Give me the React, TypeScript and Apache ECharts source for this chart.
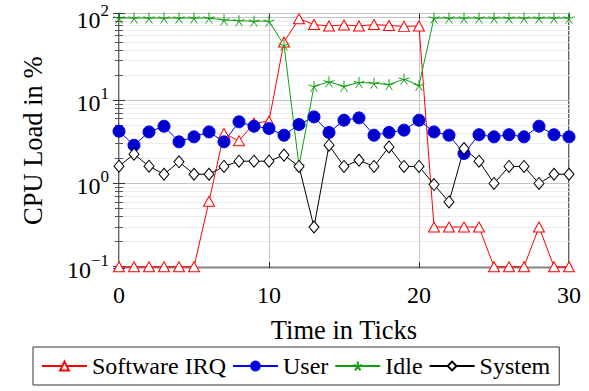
import { useEffect, useRef } from 'react';
import * as echarts from 'echarts';

const ticks = [0, 1, 2, 3, 4, 5, 6, 7, 8, 9, 10, 11, 12, 13, 14, 15, 16, 17, 18, 19, 20, 21, 22, 23, 24, 25, 26, 27, 28, 29, 30];
const softwareIrq = [0.1, 0.1, 0.1, 0.1, 0.1, 0.1, 0.61, 3.98, 3.25, 5.3, 5.6, 50, 95, 81, 78, 80, 78, 81, 79, 77, 78, 0.3, 0.3, 0.3, 0.3, 0.1, 0.1, 0.1, 0.3, 0.1, 0.1];
const user = [4.24, 2.88, 4.16, 4.87, 3.16, 3.63, 4.16, 3.16, 5.5, 4.87, 4.57, 3.8, 5.1, 6.3, 4.1, 5.75, 6.13, 3.8, 4.1, 4.37, 5.75, 4.16, 3.8, 2.29, 3.85, 3.63, 3.85, 3.63, 4.87, 3.85, 3.63];
const idle = [97, 97, 97, 97, 97, 97, 97, 92, 90, 89, 89, 46, 1.63, 14.7, 16.6, 14.7, 16.3, 16, 15.4, 17.9, 15.1, 97, 97, 97, 97, 97, 97, 97, 97, 97, 97];
const system = [1.61, 2.25, 1.61, 1.29, 1.82, 1.29, 1.29, 1.6, 1.85, 1.85, 1.85, 2.19, 1.6, 0.3, 2.88, 1.6, 1.9, 1.6, 2.75, 1.6, 1.6, 0.97, 0.6, 2.63, 1.85, 1.0, 1.6, 1.6, 1.0, 1.29, 1.29];
const xTickLabels = ['0', '10', '20', '30'];
const seriesNames = ['Software IRQ', 'User', 'Idle', 'System'];

const FONT = 'Liberation Serif';
const STAR = 'path://M0,0L0,-10M0,0L9.51,-3.09M0,0L5.88,8.09M0,0L-5.88,8.09M0,0L-9.51,-3.09';

const pair = (vals: number[]) => ticks.map((t, i) => [t, vals[i]]);

export default function App() {
  const ref = useRef<HTMLDivElement>(null);
  useEffect(() => {
    const chart = echarts.init(ref.current!, undefined, { renderer: 'svg' });
    const yLabel = (v: number) => {
      const l = Math.log10(v);
      const e = Math.round(l);
      if (Math.abs(l - e) > 1e-6) return '';
      return `{b|10}{s|${e < 0 ? '\u2212' + -e : e}}`;
    };
    const yCommon = {
      type: 'log' as const,
      logBase: 10,
      min: 0.0965,
      max: 110,
      axisLine: { show: false },
      axisTick: { show: true, inside: true, length: 6, lineStyle: { color: '#333' } },
      minorTick: { show: true, splitNumber: 9, length: 4, lineStyle: { color: '#555' } },
    };
    chart.setOption({
      animation: false,
      textStyle: { fontFamily: FONT },
      grid: { left: 119, right: 20, top: 13.5, bottom: 123, show: true, borderColor: '#000', borderWidth: 1.2, backgroundColor: 'transparent' },
      xAxis: [
        {
          type: 'value', min: 0, max: 30, interval: 10,
          name: 'Time in Ticks', nameLocation: 'middle', nameGap: 48,
          nameTextStyle: { fontFamily: FONT, fontSize: 26.5, color: '#000' },
          axisLine: { show: false },
          axisTick: { show: true, inside: true, length: 6, lineStyle: { color: '#333' } },
          axisLabel: { fontFamily: FONT, fontSize: 24, color: '#000', margin: 15, formatter: (v: number) => xTickLabels[v / 10] ?? '' },
          splitLine: { show: true, lineStyle: { color: '#c4c4c4', width: 1 } },
        },
        {
          type: 'value', min: 0, max: 30, interval: 10, position: 'top',
          axisLine: { show: false },
          axisTick: { show: true, inside: true, length: 6, lineStyle: { color: '#333' } },
          axisLabel: { show: false },
          splitLine: { show: false },
        },
      ],
      yAxis: [
        {
          ...yCommon,
          name: 'CPU Load in %', nameLocation: 'middle', nameGap: 73, nameRotate: 90,
          nameTextStyle: { fontFamily: FONT, fontSize: 26.5, color: '#000' },
          axisLabel: {
            margin: 10,
            formatter: yLabel,
            rich: {
              b: { fontFamily: FONT, fontSize: 24, color: '#000', lineHeight: 30, verticalAlign: 'bottom' },
              s: { fontFamily: FONT, fontSize: 17, color: '#000', lineHeight: 17, verticalAlign: 'top' },
            },
          },
          splitLine: { show: true, lineStyle: { color: '#c4c4c4', width: 1 } },
          minorSplitLine: { show: true, lineStyle: { color: '#ececec', width: 1 } },
        },
        {
          ...yCommon,
          position: 'right',
          axisLabel: { show: false },
          splitLine: { show: false },
          minorSplitLine: { show: false },
        },
      ],
      legend: {
        left: 33, top: 347,
        data: seriesNames,
        padding: [7, 9, 7, 8],
        itemGap: 6,
        itemWidth: 45,
        itemHeight: 11,
        borderColor: '#333', borderWidth: 1, borderRadius: 0,
        textStyle: { fontFamily: FONT, fontSize: 24, color: '#000' },
      },
      series: [
        {
          name: seriesNames[0], type: 'line', data: pair(softwareIrq),
          symbol: 'triangle', symbolSize: [11, 10],
          lineStyle: { color: '#ff0000', width: 1 },
          itemStyle: { color: '#fff', borderColor: '#ff0000', borderWidth: 1 },
        },
        {
          name: seriesNames[1], type: 'line', data: pair(user),
          symbol: 'circle', symbolSize: 12,
          lineStyle: { color: '#0000ff', width: 1 },
          itemStyle: { color: '#0000cc', borderColor: '#0000ff', borderWidth: 1 },
        },
        {
          name: seriesNames[2], type: 'line', data: pair(idle),
          symbol: STAR, symbolSize: 11,
          lineStyle: { color: '#10a010', width: 1 },
          itemStyle: { color: 'rgba(0,0,0,0)', borderColor: '#10a010', borderWidth: 1 },
        },
        {
          name: seriesNames[3], type: 'line', data: pair(system),
          symbol: 'diamond', symbolSize: [10, 12],
          lineStyle: { color: '#000', width: 1 },
          itemStyle: { color: '#fff', borderColor: '#000', borderWidth: 1 },
        },
      ],
    });
    return () => chart.dispose();
  }, []);
  return <div ref={ref} style={{ position: 'absolute', left: 0, top: 0, width: 589, height: 391 }} />;
}
